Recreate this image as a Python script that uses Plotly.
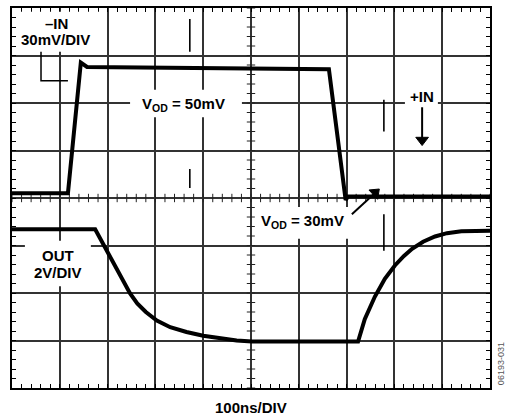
import numpy as np
import plotly.graph_objects as go

# Waveforms in screen divisions (x: 0..10 time divs, y: 0..8 vertical divs)
in_x = [0.00, 1.17, 1.44, 1.57, 6.63, 6.98, 7.03, 10.00]
in_y = [4.10, 4.10, 6.85, 6.76, 6.71, 3.96, 4.03, 4.03]

out_x = [0.00, 1.74, 2.47, 2.62, 2.80, 3.03, 3.31, 3.65, 4.00, 4.35, 4.70, 5.02,
         7.24, 7.38, 7.59, 7.80, 8.01, 8.20, 8.37, 8.60, 8.85, 9.10, 9.40, 10.00]
out_y = [3.34, 3.34, 1.99, 1.78, 1.60, 1.42, 1.28, 1.18, 1.10, 1.04, 1.00, 0.98,
         0.98, 1.45, 1.92, 2.30, 2.58, 2.78, 2.93, 3.08, 3.19, 3.26, 3.30, 3.31]

x_divs = 10
y_divs = 8
minor = 0.2

fig = go.Figure()

# center graticule ticks
cx = np.arange(0, x_divs + 1e-9, minor)
cy = np.arange(0, y_divs + 1e-9, minor)
fig.add_trace(go.Scatter(x=cx, y=np.full_like(cx, y_divs / 2), mode="markers",
                         marker=dict(symbol="line-ns", size=6,
                                     line=dict(width=1, color="#222")),
                         hoverinfo="skip", showlegend=False))
fig.add_trace(go.Scatter(x=np.full_like(cy, x_divs / 2), y=cy, mode="markers",
                         marker=dict(symbol="line-ew", size=6,
                                     line=dict(width=1, color="#222")),
                         hoverinfo="skip", showlegend=False))

fig.add_trace(go.Scatter(x=in_x, y=in_y, mode="lines",
                         line=dict(color="black", width=4),
                         hoverinfo="skip", showlegend=False))
fig.add_trace(go.Scatter(x=out_x, y=out_y, mode="lines",
                         line=dict(color="black", width=4),
                         hoverinfo="skip", showlegend=False))

# white label backgrounds
boxes = [
    (0.10, 1.84, 7.08, 7.92),
    (2.47, 4.81, 5.70, 6.28),
    (8.22, 8.91, 5.95, 6.32),
    (5.08, 7.07, 3.14, 3.81),
    (0.27, 1.65, 2.14, 3.10),
]
for x0, x1, y0, y1 in boxes:
    fig.add_shape(type="rect", x0=x0, x1=x1, y0=y0, y1=y1,
                  fillcolor="white", line=dict(width=0), layer="above")

# leader line for -IN label
fig.add_shape(type="path", path="M 0.607 7.08 L 0.607 6.47 L 1.17 6.47",
              line=dict(color="black", width=1.5), layer="above")

# cursor marks
for x, y0, y1 in [(3.72, 7.08, 7.77), (3.72, 4.21, 4.61),
                  (7.78, 5.40, 6.07), (7.78, 2.89, 3.66)]:
    fig.add_shape(type="line", x0=x, x1=x, y0=y0, y1=y1,
                  line=dict(color="black", width=1.6), layer="above")

# arrows: shaft line + filled triangle head
arrows = [
    # x0, y0, x1, y1, head angle (deg, clockwise from up)
    (8.58, 5.91, 8.58, 5.22, 180),
    (7.11, 3.66, 7.60, 4.11, 47),
]
for (x0, y0, x1, y1, ang) in arrows:
    fig.add_trace(go.Scatter(x=[x0, x1], y=[y0, y1], mode="lines",
                             line=dict(color="black", width=2),
                             hoverinfo="skip", showlegend=False))
    fig.add_trace(go.Scatter(x=[x1], y=[y1], mode="markers",
                             marker=dict(symbol="triangle-up", size=11, angle=ang,
                                         color="black",
                                         line=dict(width=1, color="black")),
                             hoverinfo="skip", showlegend=False))

F = "Arial, Liberation Sans, Helvetica, sans-serif"

def label(text, x, y, size=15, **kw):
    fig.add_annotation(x=x, y=y, text=text, showarrow=False,
                       font=dict(family=F, size=size, color="black"), **kw)

label("<b>–IN</b>", 0.93, 7.67)
label("<b>30mV/DIV</b>", 0.91, 7.33)
label("<b>V<sub>OD</sub> = 50mV</b>", 3.58, 5.97)
label("<b>+IN</b>", 8.58, 6.14)
label("<b>V<sub>OD</sub> = 30mV</b>", 6.07, 3.50)
label("<b>OUT</b>", 0.96, 2.78)
label("<b>2V/DIV</b>", 0.97, 2.44)
fig.add_annotation(x=5.0, y=-0.052, xref="x", yref="paper", yanchor="middle",
                   text="<b>100ns/DIV</b>",
                   showarrow=False, font=dict(family=F, size=15, color="black"))
fig.add_annotation(x=1.0, y=(388 - 364) / 382, xref="paper", yref="paper",
                   xanchor="left", yanchor="middle", xshift=4, text="06193-031",
                   textangle=-90,
                   showarrow=False, font=dict(family=F, size=9, color="#555"))

axis_common = dict(showgrid=True, gridcolor="#333", gridwidth=1.5,
                   showline=True, linecolor="black", linewidth=2, mirror="ticks",
                   ticks="inside", ticklen=4, tickcolor="black", tickwidth=1,
                   showticklabels=False, zeroline=False, fixedrange=True,
                   minor=dict(dtick=minor, ticks="inside", ticklen=4,
                              tickcolor="black", tickwidth=1, showgrid=False))

fig.update_xaxes(range=[0, x_divs], dtick=1, tick0=0, **axis_common)
fig.update_yaxes(range=[0, y_divs], dtick=1, tick0=0, **axis_common)

fig.update_layout(width=505, height=419,
                  margin=dict(l=12, r=15, t=6, b=31),
                  paper_bgcolor="white", plot_bgcolor="white",
                  showlegend=False)

fig.write_html("out.html", config={"displayModeBar": False},
               post_script="document.body.style.margin='0';document.body.style.padding='0';")
